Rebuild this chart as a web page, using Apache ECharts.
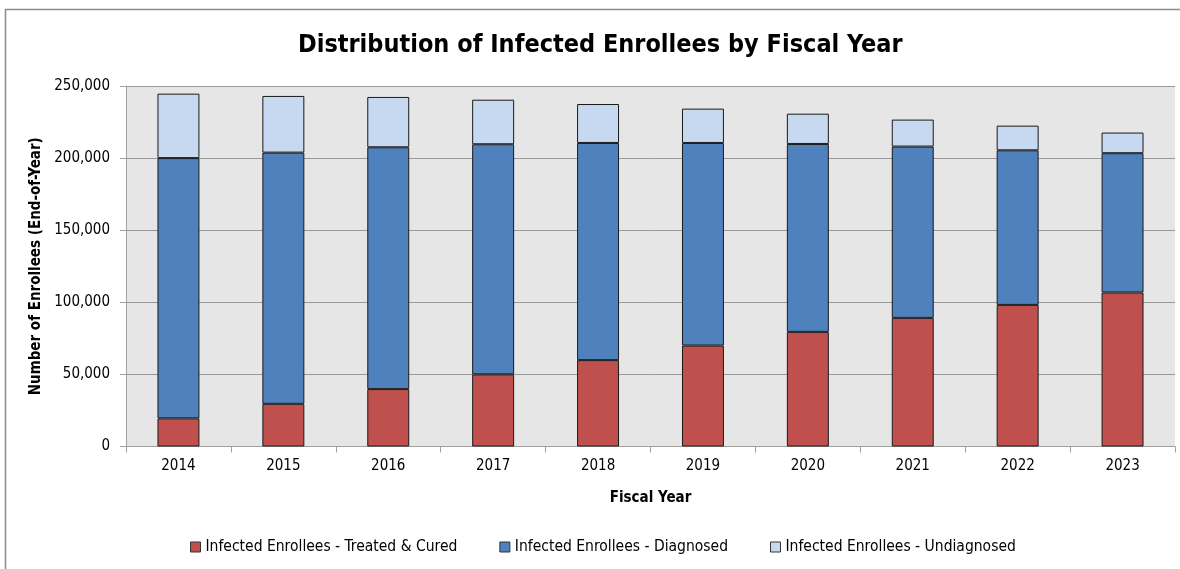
<!DOCTYPE html>
<html>
<head>
<meta charset="utf-8">
<script src="https://cdn.jsdelivr.net/npm/echarts@6/dist/echarts.min.js"></script>
<style>
html,body{margin:0;padding:0;background:#fff;}
#c{width:1180px;height:569px;}
</style>
</head>
<body>
<div id="c"></div>
<script>
const years = ['2014','2015','2016','2017','2018','2019','2020','2021','2022','2023'];
const treatedCured = [19500, 29600, 39800, 50000, 59900, 70000, 79500, 89200, 98200, 106800];
const diagnosed = [180500, 174200, 167700, 159600, 150600, 140500, 130300, 118800, 107200, 96600];
const undiagnosed = [44700, 39300, 34900, 30900, 27000, 23800, 21000, 18700, 17100, 14300];
const seriesNames = ['Infected Enrollees - Treated & Cured', 'Infected Enrollees - Diagnosed', 'Infected Enrollees - Undiagnosed'];

const FONT = "'Liberation Sans Narrow', 'DejaVu Sans Condensed', sans-serif";
const chart = echarts.init(document.getElementById('c'), null, {renderer: 'canvas'});
const colors = ['#C0504D', '#4F81BD', '#C6D9F1'];
const mk = (name, data, color) => ({
  name: name, type: 'bar', stack: 'total', data: data, barWidth: '40%',
  itemStyle: {color: color, borderColor: '#1a1a1a', borderWidth: 1},
  emphasis: {disabled: true}
});
chart.setOption({
  animation: false,
  textStyle: {fontFamily: FONT},
  graphic: [{
    type: 'rect', shape: {x: 5.5, y: 9.5, width: 1180, height: 570},
    style: {fill: 'none', stroke: '#8c8c8c', lineWidth: 1.5}, silent: true, z: -10
  }],
  title: {
    text: 'Distribution of Infected Enrollees by Fiscal Year',
    left: 293, top: 28,
    textStyle: {fontFamily: FONT, fontSize: 25, fontWeight: 'bold', color: '#000'}
  },
  legend: {
    bottom: 9, left: 185, itemWidth: 10, itemHeight: 10, itemGap: 42,
    icon: 'rect',
    textStyle: {fontFamily: FONT, fontSize: 15.5, color: '#000'},
    data: seriesNames.map((n, i) => ({name: n, itemStyle: {color: colors[i], borderColor: '#333', borderWidth: 1}}))
  },
  grid: {left: 126, right: 5, top: 86, bottom: 122.5, show: true, backgroundColor: '#E6E6E6', borderWidth: 0},
  xAxis: {
    type: 'category', data: years,
    name: 'Fiscal Year', nameLocation: 'middle', nameGap: 44,
    nameTextStyle: {fontFamily: FONT, fontSize: 15, fontWeight: 'bold', color: '#000'},
    axisLine: {lineStyle: {color: '#a0a0a0'}},
    axisTick: {show: true, length: 6, lineStyle: {color: '#a0a0a0'}},
    axisLabel: {fontFamily: FONT, fontSize: 15, color: '#000', margin: 12}
  },
  yAxis: {
    type: 'value', min: 0, max: 250000, interval: 50000,
    name: 'Number of Enrollees (End-of-Year)', nameLocation: 'middle', nameGap: 77,
    nameTextStyle: {fontFamily: FONT, fontSize: 15, fontWeight: 'bold', color: '#000'},
    axisLine: {show: true, lineStyle: {color: '#a0a0a0'}},
    axisTick: {show: true, length: 6, lineStyle: {color: '#a0a0a0'}},
    axisLabel: {fontFamily: FONT, fontSize: 15, color: '#000', margin: 16,
      formatter: v => v.toLocaleString('en-US')},
    splitLine: {lineStyle: {color: '#9a9a9a'}}
  },
  series: [
    mk(seriesNames[0], treatedCured, colors[0]),
    mk(seriesNames[1], diagnosed, colors[1]),
    mk(seriesNames[2], undiagnosed, colors[2])
  ]
});
</script>
</body>
</html>
